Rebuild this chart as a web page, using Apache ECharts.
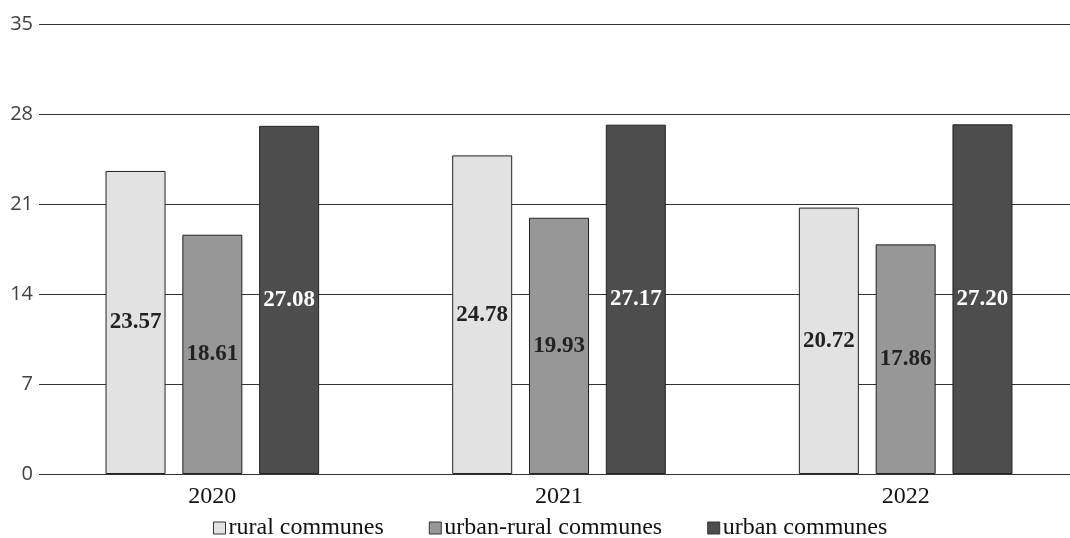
<!DOCTYPE html>
<html>
<head>
<meta charset="utf-8">
<script src="https://cdn.jsdelivr.net/npm/echarts@6/dist/echarts.min.js"></script>
<style>html,body{margin:0;padding:0;background:#fff;overflow:hidden}#main{width:1081px;height:538px}</style>
</head>
<body>
<div id="main"></div>
<script>
var years = ['2020', '2021', '2022'];
var rural = [23.57, 24.78, 20.72];
var urbanRural = [18.61, 19.93, 17.86];
var urban = [27.08, 27.17, 27.20];
var seriesNames = ['rural communes', 'urban-rural communes', 'urban communes'];
var colors = ['#e2e2e2', '#979797', '#4d4d4d'];
var labelColors = ['#222', '#222', '#fff'];

// the div is a little wider than the window so the plot runs past the right edge, like the original
var myChart = echarts.init(document.getElementById('main'));

// one bar series per commune type
function makeSeries(i, values) {
    return {
        name: seriesNames[i],
        type: 'bar',
        data: values,
        barWidth: 60,
        barGap: '28%',
        itemStyle: { color: colors[i], borderColor: '#222', borderWidth: 1 },
        label: {
            show: true,
            position: 'inside',
            formatter: function (p) { return p.value.toFixed(2); },
            fontFamily: 'Liberation Serif',
            fontWeight: 'bold',
            fontSize: 23,
            color: labelColors[i]
        }
    };
}

var option = {
    animation: false,
    color: colors,
    grid: { left: 39, right: 2, top: 24, bottom: 64 },
    legend: {
        left: 213,
        top: 516,
        padding: 0,
        itemWidth: 12,
        itemHeight: 12,
        itemGap: 45,
        icon: 'rect',
        itemStyle: { borderColor: '#333', borderWidth: 1 },
        textStyle: { fontFamily: 'Liberation Serif', fontSize: 24, color: '#111', padding: [0, 0, 0, -2] },
        data: seriesNames
    },
    xAxis: {
        type: 'category',
        data: years,
        axisTick: { show: false },
        axisLine: { show: false },
        axisLabel: { fontFamily: 'Liberation Serif', fontSize: 24, color: '#111', margin: 11 }
    },
    yAxis: {
        type: 'value',
        min: 0,
        max: 35,
        interval: 7,
        axisLabel: { fontFamily: 'Open Sans', fontSize: 20, color: '#404040', margin: 6 },
        splitLine: { lineStyle: { color: '#333', width: 1 } }
    },
    series: [makeSeries(0, rural), makeSeries(1, urbanRural), makeSeries(2, urban)]
};

myChart.setOption(option);
</script>
</body>
</html>
